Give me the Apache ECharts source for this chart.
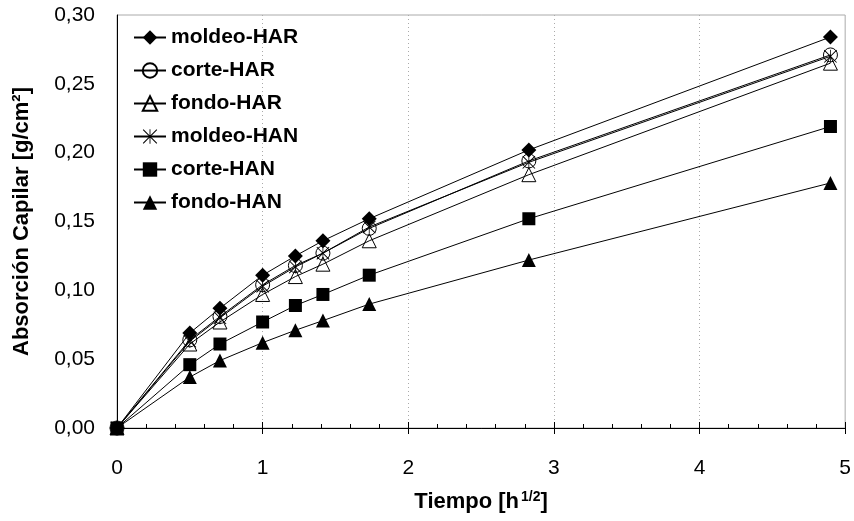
<!DOCTYPE html>
<html>
<head>
<meta charset="utf-8">
<script src="https://cdn.jsdelivr.net/npm/echarts@6.0.0/dist/echarts.min.js"></script>
<style>
  html, body { margin: 0; padding: 0; background: #fff; }
  #main { width: 854px; height: 521px; }
</style>
</head>
<body>
<div id="main"></div>
<script>
// raiz del tiempo [h^1/2]
const tiempo = [0, 0.5, 0.707, 1, 1.225, 1.414, 1.732, 2.828, 4.899];

// absorcion capilar [g/cm2]
const moldeoHAR = [0, 0.069, 0.087, 0.111, 0.125, 0.136, 0.152, 0.202, 0.284];
const corteHAR  = [0, 0.064, 0.081, 0.104, 0.118, 0.127, 0.145, 0.194, 0.271];
const fondoHAR  = [0, 0.061, 0.077, 0.097, 0.110, 0.119, 0.136, 0.184, 0.265];
const moldeoHAN = [0, 0.063, 0.080, 0.103, 0.117, 0.127, 0.146, 0.193, 0.270];
const corteHAN  = [0, 0.046, 0.061, 0.077, 0.089, 0.097, 0.111, 0.152, 0.219];
const fondoHAN  = [0, 0.037, 0.049, 0.062, 0.071, 0.078, 0.090, 0.122, 0.178];

const nombres = ['moldeo-HAR', 'corte-HAR', 'fondo-HAR', 'moldeo-HAN', 'corte-HAN', 'fondo-HAN'];

const FONT = "'Liberation Sans', Arial, sans-serif";
// asterisco (X con barra vertical)
const STAR = 'path://M0,1 L1,0 L20,19 L19,20 Z M19,0 L20,1 L1,20 L0,19 Z M9.4,0 L10.6,0 L10.6,20 L9.4,20 Z';

function pares(arr) {
    return tiempo.map((t, i) => [t, arr[i]]);
}

function serie(name, arr, symbol, size, filled) {
    return {
        name: name,
        type: 'line',
        data: pares(arr),
        symbol: symbol,
        symbolSize: size,
        showAllSymbol: true,
        lineStyle: { color: '#000', width: 1 },
        itemStyle: filled
            ? { color: '#000', borderColor: '#000', borderWidth: 0 }
            : { color: 'rgba(255,255,255,0)', borderColor: '#000', borderWidth: 1 },
        emphasis: { disabled: true }
    };
}

var myChart = echarts.init(document.getElementById('main'));

myChart.setOption({
    animation: false,
    textStyle: { fontFamily: FONT },
    grid: {
        left: 117, right: 5, top: 15, bottom: 93,
        show: true, borderColor: '#aaa', borderWidth: 1
    },
    legend: {
        orient: 'vertical',
        left: 128, top: 22,
        itemWidth: 32, itemHeight: 18, itemGap: 12,
        textStyle: { fontFamily: FONT, fontWeight: 'bold', fontSize: 21, color: '#000', lineHeight: 20 },
        data: nombres
    },
    xAxis: [{
        type: 'value',
        min: 0, max: 5, interval: 1,
        name: '{b|Tiempo [h}{s|1/2}{b|]}',
        nameLocation: 'middle',
        nameGap: 62,
        nameTextStyle: {
            rich: {
                b: { fontFamily: FONT, fontWeight: 'bold', fontSize: 22, color: '#000' },
                s: { fontFamily: FONT, fontWeight: 'bold', fontSize: 14, color: '#000', verticalAlign: 'top', padding: [0, 0, 10, 2] }
            }
        },
        axisLine: { lineStyle: { color: '#000', width: 1 } },
        axisTick: { inside: true, length: 6, lineStyle: { color: '#000' } },
        minorTick: { show: true, splitNumber: 5, length: 4, lineStyle: { color: '#000' } },
        axisLabel: { color: '#000', fontSize: 21, margin: 30, fontFamily: FONT },
        splitLine: { show: true, showMinLine: false, showMaxLine: false, lineStyle: { color: '#aaa', type: [1, 3], width: 1 } }
    }, {
        type: 'value',
        position: 'bottom',
        min: 0, max: 5, interval: 1,
        axisLine: { show: false },
        axisTick: { inside: false, length: 6, lineStyle: { color: '#000' } },
        axisLabel: { show: false },
        splitLine: { show: false }
    }],
    yAxis: {
        type: 'value',
        min: 0, max: 0.3, interval: 0.05,
        name: 'Absorción Capilar [g/cm²]',
        nameLocation: 'middle',
        nameGap: 84,
        nameTextStyle: { fontFamily: FONT, fontWeight: 'bold', fontSize: 22, color: '#000' },
        axisLine: { show: true, lineStyle: { color: '#000', width: 1 } },
        axisTick: { show: false },
        axisLabel: {
            color: '#000', fontSize: 21, margin: 22, fontFamily: FONT,
            formatter: v => v.toFixed(2).replace('.', ',')
        },
        splitLine: { show: false }
    },
    series: [
        serie('moldeo-HAR', moldeoHAR, 'diamond', 15, true),
        serie('corte-HAR', corteHAR, 'circle', 14, false),
        serie('fondo-HAR', fondoHAR, 'triangle', 14, false),
        serie('moldeo-HAN', moldeoHAN, STAR, 13, true),
        serie('corte-HAN', corteHAN, 'rect', 13, true),
        serie('fondo-HAN', fondoHAN, 'triangle', 14, true)
    ]
});
</script>
</body>
</html>
